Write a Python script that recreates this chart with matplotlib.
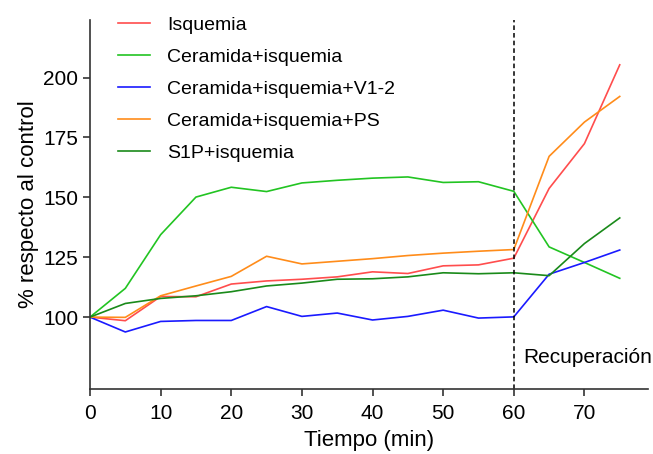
import matplotlib.pyplot as plt

plt.rcParams['font.family'] = ['Liberation Sans', 'DejaVu Sans']

tiempo = [0, 5, 10, 15, 20, 25, 30, 35, 40, 45, 50, 55, 60, 65, 70, 75]

isquemia = [100, 98.5, 108.6, 108.5, 113.8, 115.1, 115.8, 116.8, 118.9, 118.2, 121.4, 121.8, 124.6, 153.7, 172.4, 205.3]
ceramida = [100, 112, 134.4, 150.1, 154.2, 152.4, 156, 157.1, 158, 158.5, 156.2, 156.5, 152.5, 129.3, 122.8, 116.2]
ceramida_v12 = [100, 93.8, 98.2, 98.6, 98.6, 104.4, 100.3, 101.7, 98.8, 100.3, 102.9, 99.6, 100.1, 117.9, 122.8, 128]
ceramida_ps = [100, 99.9, 108.9, 113, 117, 125.4, 122.2, 123.3, 124.4, 125.7, 126.7, 127.5, 128.2, 167.1, 181.4, 192.1]
s1p = [100, 105.7, 107.8, 108.9, 110.6, 113, 114.2, 115.8, 116, 116.8, 118.5, 118.1, 118.5, 117.3, 130.7, 141.4]

series = [
    ("Isquemia", isquemia, "#ff4d4d"),
    ("Ceramida+isquemia", ceramida, "#22c422"),
    ("Ceramida+isquemia+V1-2", ceramida_v12, "#1a1aff"),
    ("Ceramida+isquemia+PS", ceramida_ps, "#ff8c1a"),
    ("S1P+isquemia", s1p, "#1a8a1a"),
]

fig = plt.figure(figsize=(6.53, 4.54), dpi=100)
ax = fig.add_axes([90/653, 65/454, 558/653, 369/454])

for nombre, valores, color in series:
    ax.plot(tiempo, valores, color=color, lw=1.2, label=nombre)

ax.axvline(60, color="black", ls=(0, (3, 2)), lw=1.1)
ax.text(61.3, 83, "Recuperación", fontsize=15, va="center")

ax.set_xlim(0, 79)
ax.set_ylim(70, 224)
ax.set_xticks(range(0, 71, 10))
ax.set_yticks([100, 125, 150, 175, 200])
ax.tick_params(labelsize=15, length=5, width=1.2, color="#333333")
ax.tick_params(axis="x", pad=6)
ax.spines["top"].set_visible(False)
ax.spines["right"].set_visible(False)
for s in ["left", "bottom"]:
    ax.spines[s].set_linewidth(1.2)
    ax.spines[s].set_color("#333333")

ax.set_xlabel("Tiempo (min)", fontsize=16, labelpad=5)
ax.set_ylabel("% respecto al control", fontsize=16, labelpad=3)

ax.legend(loc="upper left", bbox_to_anchor=(0.033, 1.036), frameon=False,
          fontsize=14, handlelength=1.65, handletextpad=0.88, labelspacing=0.74,
          borderpad=0)

fig.savefig("out.png", dpi=100)
